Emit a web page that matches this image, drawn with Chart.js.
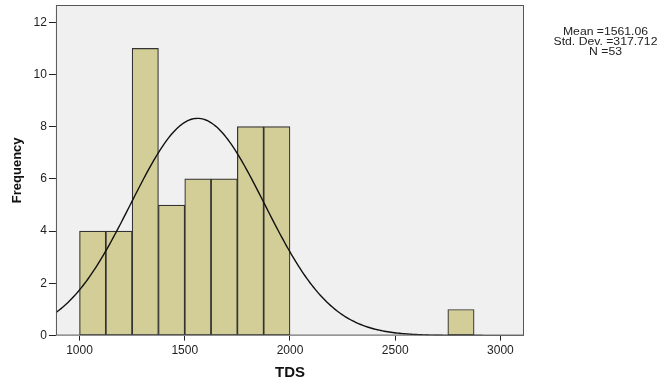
<!DOCTYPE html>
<html><head><meta charset="utf-8">
<script src="https://cdn.jsdelivr.net/npm/chart.js@4/dist/chart.umd.min.js"></script>
<style>html,body{margin:0;padding:0;background:#fff}#wrap{width:660px;height:382px}</style>
</head><body><div id="wrap"><canvas id="c" width="660" height="382"></canvas></div>
<script>
const binStarts = [1000,1125,1250,1375,1500,1625,1750,1875,2750];
const binCounts = [4,4,11,5,6,6,8,8,1];
const binWidth = 125;
const xTicks = [1000,1500,2000,2500,3000];
const yTicks = [0,2,4,6,8,10,12];
const statMean = 1561.06, statSD = 317.712, statN = 53;
const statLines = ['Mean =1561.06','Std. Dev. =317.712','N =53'];

const xMin = 888, xMax = 3112;
const barData = binStarts.map((s,i)=>({x:s+binWidth/2,y:binCounts[i]}));
const curve = [];
for (let v = xMin; v <= xMax; v += 8) {
  const z = (v-statMean)/statSD;
  curve.push({x:v, y: statN*binWidth/(statSD*Math.sqrt(2*Math.PI))*Math.exp(-0.5*z*z)});
}
const FONT = '"Liberation Sans", Arial, sans-serif';

const bgPlugin = {
  id:'bg',
  beforeDatasetsDraw(chart){
    const {ctx, chartArea:a} = chart;
    ctx.save(); ctx.fillStyle='#f0f0f0'; ctx.fillRect(a.left,a.top,a.width,a.height); ctx.restore();
  },
  afterDraw(chart){
    const {ctx, chartArea:a} = chart;
    ctx.save(); ctx.strokeStyle='#555'; ctx.lineWidth=1;
    ctx.strokeRect(a.left+0.5,a.top+0.5,a.width-1,a.height-1);
    ctx.restore();
    ctx.save();
    ctx.fillStyle='#222'; ctx.font='10px '+FONT; ctx.textAlign='center';
    ctx.translate(605.5,0); ctx.scale(1.22,1);
    statLines.forEach((t,i)=>ctx.fillText(t,0,34.5+i*10));
    ctx.restore();
  }
};

new Chart(document.getElementById('c'),{
  type:'bar',
  data:{datasets:[
    {type:'line', data:curve, borderColor:'#111', borderWidth:1.4, pointRadius:0, fill:false, tension:0, order:0},
    {type:'bar', data:barData, backgroundColor:'#d3ce97', borderColor:'#333', borderWidth:1.2, borderSkipped:false, barPercentage:1, categoryPercentage:1, grouped:false, order:1}
  ]},
  options:{
    responsive:false, animation:false,
    layout:{padding:{left:10,top:5,right:136,bottom:0}},
    plugins:{legend:{display:false},tooltip:{enabled:false}},
    scales:{
      x:{type:'linear', min:xMin, max:xMax, offset:false,
        afterBuildTicks(s){s.ticks = xTicks.map(v=>({value:v}));},
        ticks:{color:'#222',font:{size:12,family:FONT},padding:3, maxRotation:0, autoSkip:false, callback:v=>String(v)},
        grid:{drawOnChartArea:false, offset:false, drawTicks:true, tickLength:5, color:'#222'},
        border:{display:false},
        title:{display:true,text:'TDS',color:'#111',font:{size:15,weight:'bold',family:FONT},padding:{top:3,bottom:0}}
      },
      y:{type:'linear', min:0, max:12.66,
        afterBuildTicks(s){s.ticks = yTicks.map(v=>({value:v}));},
        afterFit(s){s.paddingTop=0; s.paddingBottom=0;},
        ticks:{color:'#222',font:{size:12,family:FONT},padding:2, autoSkip:false, callback:v=>String(v)},
        grid:{drawOnChartArea:false, offset:false, drawTicks:true, tickLength:7, color:'#222'},
        border:{display:false},
        title:{display:true,text:'Frequency',color:'#111',font:{size:13,weight:'bold',family:FONT},padding:{top:0,bottom:6}}
      }
    }
  },
  plugins:[bgPlugin]
});
</script></body></html>
